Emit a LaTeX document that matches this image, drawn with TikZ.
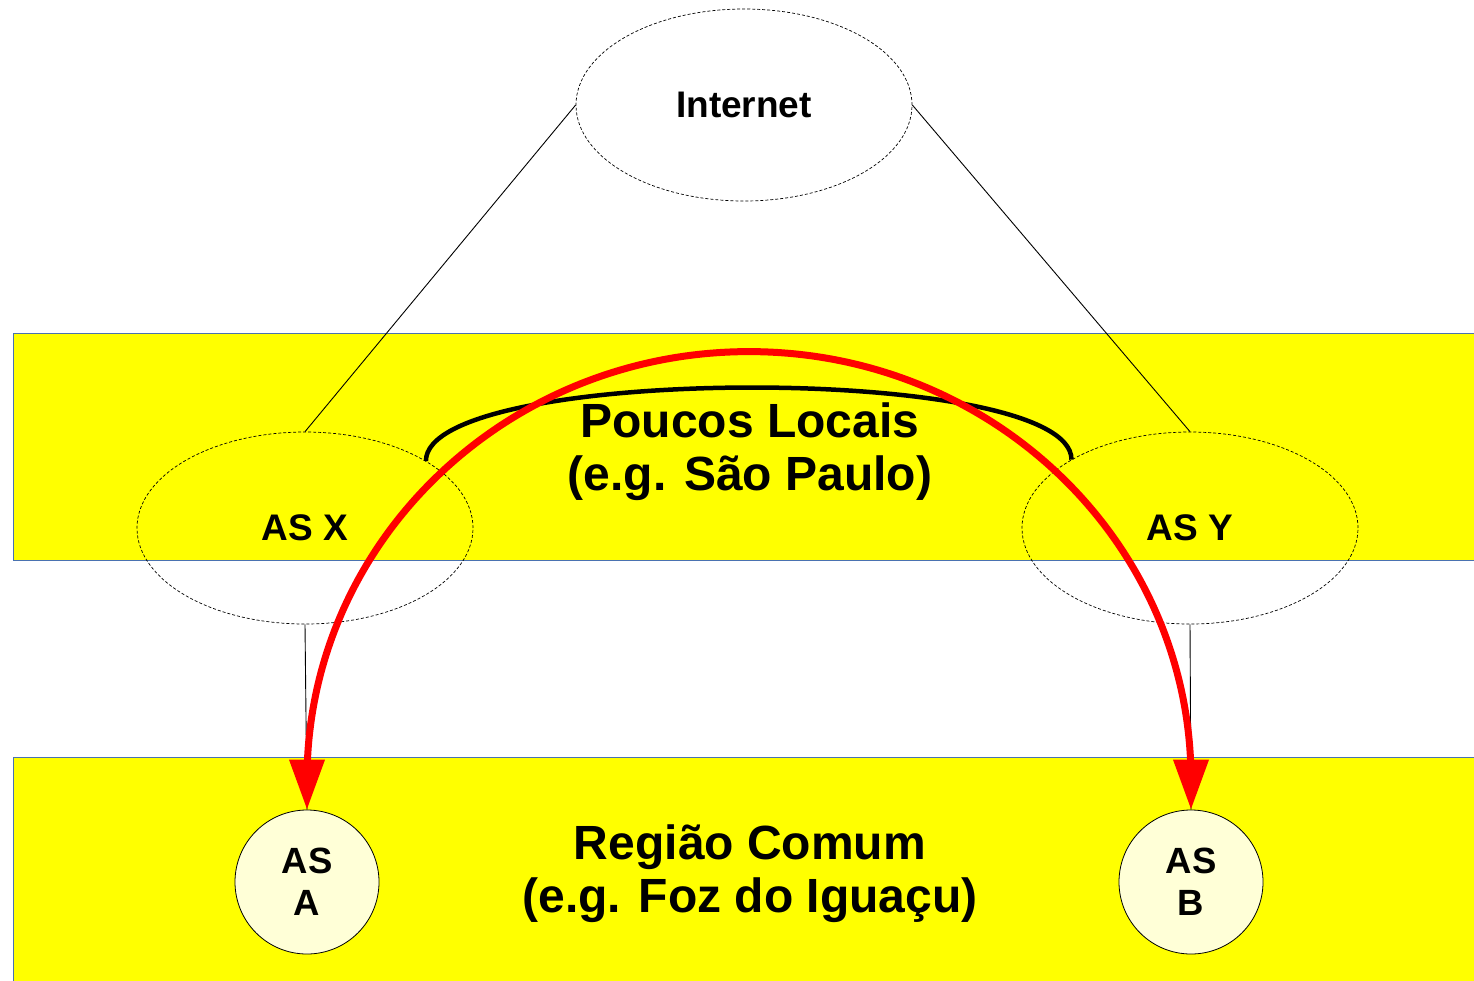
\documentclass[tikz,border=0pt]{standalone}
\usepackage{fontspec}
\setmainfont{Liberation Sans}
\usetikzlibrary{shapes.geometric,arrows.meta}
\definecolor{bandyellow}{HTML}{FFFF00}
\definecolor{bandedge}{HTML}{4A72B0}
\definecolor{asfill}{HTML}{FFFFD7}
\definecolor{arrowred}{HTML}{FF0000}
\begin{document}
\begin{tikzpicture}[x=1pt,y=-1pt,
  band/.style={rectangle,fill=bandyellow,draw=bandedge,line width=0.8pt,inner sep=0pt,anchor=north west},
  asell/.style={ellipse,draw=black,line width=0.7pt,dash pattern=on 3pt off 2pt,minimum width=336pt,minimum height=192pt,inner sep=0pt,font=\bfseries\fontsize{37}{42}\selectfont},
  ascircle/.style={circle,draw=black,line width=0.8pt,fill=asfill,minimum size=144pt,inner sep=0pt,align=center,font=\bfseries\fontsize{36.5}{42}\selectfont},
  link/.style={draw=black,line width=0.9pt},
  bigtext/.style={align=center,inner sep=0pt,font=\bfseries\fontsize{48}{53}\selectfont},
  bracketline/.style={draw=black,line width=4.5pt},
  redarrow/.style={draw=arrowred,line width=7pt,arrows={Triangle[length=50pt,width=34pt]-Triangle[length=50pt,width=34pt]}}
]
\path[fill=white,use as bounding box] (0,0) rectangle (1474,980);

% bands
\node[band,minimum width=1463pt,minimum height=227pt] (topband) at (13,333) {};
\node[band,minimum width=1463pt,minimum height=226pt] (botband) at (13,757) {};

% AS ellipses
\node[asell] (inet) at (744,105) {Internet};
\node[asell] (asx) at (305,528) {AS X};
\node[asell] (asy) at (1190,528) {AS Y};

% texts in bands
\node[bigtext] (poucos) at (750,452) {Poucos Locais\\(e.g. São Paulo)};
\node[bigtext] (regiao) at (750,874) {Região Comum\\(e.g. Foz do Iguaçu)};

% AS circles
\node[ascircle] (asa) at (307,882) {AS\\A};
\node[ascircle] (asb) at (1191,882) {AS\\B};

% links
\draw[link] (inet.west) -- (asx.north);
\draw[link] (inet.east) -- (asy.north);
\draw[link] (asx.south) -- (asa.north);
\draw[link] (asy.south) -- (asb.north);

% black bracket arc
\draw[bracketline] (asx.29.5) .. controls +(0,-97) and +(0,-97) .. (asy.150.5);

% red double arrow
\draw[redarrow] (asa.north) -- ++(0,-30)
  arc[start angle=180,end angle=0,x radius=442pt,y radius=428pt] -- (asb.north);
\end{tikzpicture}
\end{document}
